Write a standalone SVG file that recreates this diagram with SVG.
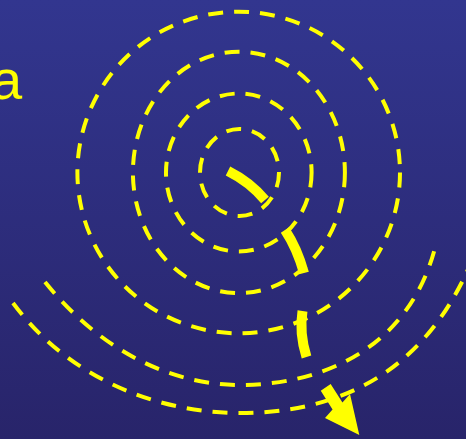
<svg xmlns="http://www.w3.org/2000/svg" width="466" height="439" viewBox="0 0 466 439">
  <defs>
    <linearGradient id="bg" x1="0" y1="0" x2="0" y2="1">
      <stop offset="0" stop-color="#32368f"/>
      <stop offset="1" stop-color="#28246a"/>
    </linearGradient>
    <style>
      .dash { fill: none; stroke: #ffff00; stroke-width: 4; stroke-dasharray: 15 11; }
      .thick { fill: none; stroke: #ffff00; stroke-width: 10; }
      .label { fill: #ffff00; font-family: "Liberation Sans", Arial, sans-serif; font-size: 56px; }
    </style>
  </defs>
  <rect x="0" y="0" width="466" height="439" fill="url(#bg)"/>
  <g id="label">
    <text class="label" x="-9" y="99">a</text>
  </g>
  <g id="spiral">
    <ellipse class="dash" cx="239.5" cy="172.5" rx="39.5" ry="43.5"/>
    <ellipse class="dash" cx="238.8" cy="172.5" rx="72.8" ry="79"/>
    <ellipse class="dash" cx="238.9" cy="172.4" rx="106" ry="120.7"/>
    <ellipse class="dash" cx="238.7" cy="172.5" rx="161.3" ry="160.8"/>
    <path class="dash" d="M45,282 C100,350 170,385 240,385 C320,385 410,350 436,244"/>
    <path class="dash" d="M13,303 C70,380 160,413 240,413 C330,413 420,380 470,265"/>
  </g>
  <g id="connectors">
    <path class="thick" d="M228,171 Q250,182 265,200"/>
    <path class="thick" d="M285,230 Q297,248 304,273"/>
    <path class="thick" d="M302.5,311 Q299,333 306.5,357"/>
    <polygon fill="#ffff00" points="320.75,390.7 330.65,383.9 342.45,402.6 350,394 359.3,435 325,418 332.55,409.4"/>
  </g>
</svg>
